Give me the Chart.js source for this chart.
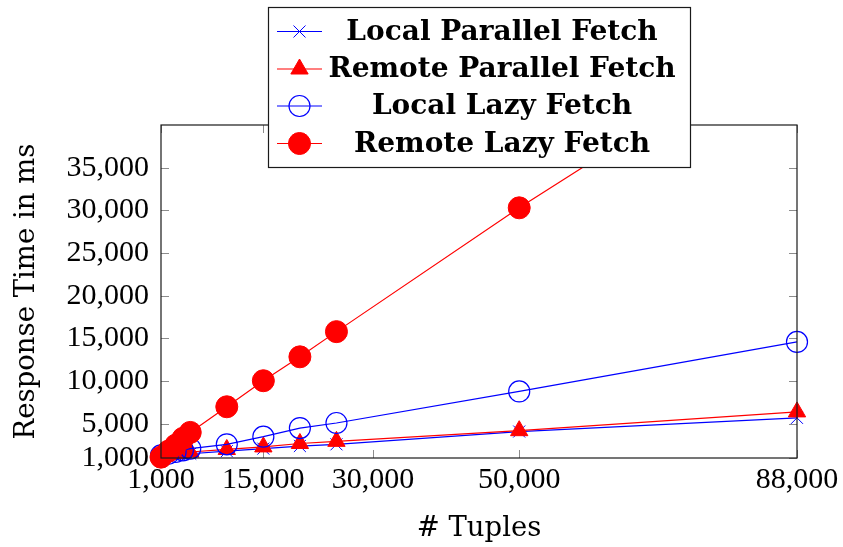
<!DOCTYPE html>
<html>
<head>
<meta charset="utf-8">
<script src="https://cdn.jsdelivr.net/npm/chart.js@4/dist/chart.umd.min.js"></script>
<style>
  html, body { margin: 0; padding: 0; background: #fff; }
  #wrap { width: 843px; height: 547px; position: relative; }
</style>
</head>
<body>
<div id="wrap"><canvas id="c" width="843" height="547"></canvas></div>
<script>
// Number of tuples fetched (x) and response times in ms (y)
const tuples = [1000, 2000, 3000, 4000, 5000, 10000, 15000, 20000, 25000, 50000, 88000];

const localParallel  = [1200, 1300, 1400, 1450, 1500, 1800, 2100, 2400, 2600, 4100, 5700];
const remoteParallel = [1300, 1400, 1500, 1600, 1700, 2000, 2300, 2700, 2950, 4200, 6400];
const localLazy      = [1300, 1500, 1700, 1900, 2100, 2600, 3500, 4500, 5100, 8800, 14600];
const remoteLazy     = [1100, 1800, 2500, 3300, 4000, 7000, 10050, 12850, 15800, 30300, 51000];

const seriesLabels = ['Local Parallel Fetch', 'Remote Parallel Fetch', 'Local Lazy Fetch', 'Remote Lazy Fetch'];

const xTicks = [1000, 15000, 30000, 50000, 88000];
const yTicks = [1000, 5000, 10000, 15000, 20000, 25000, 30000, 35000];

const xTitle = '# Tuples';
const yTitle = 'Response Time in ms';

const BLUE = '#0000ff';
const RED = '#ff0000';
const SERIF = "'Liberation Serif', 'DejaVu Serif', serif";
const TITLE_SERIF = "'DejaVu Serif', serif";

const pts = ys => tuples.map((x, i) => ({ x: x, y: ys[i] }));
const looseClip = { left: 30, right: 30, top: 30, bottom: 30 };

const datasets = [
  { label: seriesLabels[0], data: pts(localParallel), borderColor: BLUE, backgroundColor: BLUE,
    pointStyle: 'crossRot', pointRadius: 8.5, pointBorderWidth: 1, pointBorderColor: BLUE,
    borderWidth: 1.2, order: 4, clip: looseClip },
  { label: seriesLabels[1], data: pts(remoteParallel), borderColor: RED, backgroundColor: RED,
    pointStyle: 'triangle', pointRadius: 10, pointBorderWidth: 1, pointBorderColor: RED, pointBackgroundColor: RED,
    borderWidth: 1.2, order: 3, clip: looseClip },
  { label: seriesLabels[2], data: pts(localLazy), borderColor: BLUE, backgroundColor: 'rgba(0,0,0,0)',
    pointStyle: 'circle', pointRadius: 10.5, pointBorderWidth: 1.2, pointBorderColor: BLUE, pointBackgroundColor: 'rgba(0,0,0,0)',
    borderWidth: 1.2, order: 2, clip: looseClip },
  { label: seriesLabels[3], data: pts(remoteLazy), borderColor: RED, backgroundColor: RED,
    pointStyle: 'circle', pointRadius: 11, pointBorderWidth: 1, pointBorderColor: RED, pointBackgroundColor: RED,
    borderWidth: 1.2, order: 1, clip: { left: 30, right: 30, top: 0, bottom: 30 } }
];

const fmt = v => Number(v).toLocaleString('en-US');

// Small inward tick marks on all four sides of the plot frame
const frameTicks = {
  id: 'frameTicks',
  beforeDatasetsDraw(chart) {
    const { ctx, chartArea: a, scales } = chart;
    const len = 8;
    ctx.save();
    ctx.strokeStyle = '#8c8c8c';
    ctx.lineWidth = 1;
    ctx.beginPath();
    xTicks.forEach(v => {
      const px = Math.round(scales.x.getPixelForValue(v)) + 0.5;
      ctx.moveTo(px, a.bottom); ctx.lineTo(px, a.bottom - len);
      ctx.moveTo(px, a.top); ctx.lineTo(px, a.top + len);
    });
    yTicks.forEach(v => {
      const py = Math.round(scales.y.getPixelForValue(v)) + 0.5;
      ctx.moveTo(a.left, py); ctx.lineTo(a.left + len, py);
      ctx.moveTo(a.right, py); ctx.lineTo(a.right - len, py);
    });
    ctx.stroke();
    ctx.restore();
  },
  afterDatasetsDraw(chart) {
    const { ctx, chartArea: a } = chart;
    ctx.save();
    ctx.strokeStyle = '#1a1a1a';
    ctx.lineWidth = 1.2;
    ctx.strokeRect(a.left, a.top, a.right - a.left, a.bottom - a.top);
    ctx.restore();
  }
};

// Boxed legend: marker on a short line segment, label centred in the text column
const boxLegend = {
  id: 'boxLegend',
  afterDraw(chart) {
    const { ctx } = chart;
    const box = { x: 268.5, y: 7.5, w: 422, h: 160 };
    const rowY = [31.5, 69, 106, 143.5];
    const segL = 277, segR = 322, markX = 299.5, textX = 502;
    ctx.save();
    ctx.fillStyle = '#ffffff';
    ctx.fillRect(box.x, box.y, box.w, box.h);
    ctx.strokeStyle = '#1a1a1a';
    ctx.lineWidth = 1.2;
    ctx.strokeRect(box.x, box.y, box.w, box.h);
    chart.data.datasets.forEach((ds, i) => {
      const y = rowY[i];
      ctx.strokeStyle = ds.borderColor;
      ctx.lineWidth = ds.borderWidth;
      ctx.beginPath();
      ctx.moveTo(segL, y); ctx.lineTo(segR, y);
      ctx.stroke();
      ctx.fillStyle = ds.pointBackgroundColor || ds.backgroundColor;
      ctx.strokeStyle = ds.pointBorderColor;
      ctx.lineWidth = ds.pointBorderWidth;
      Chart.helpers.drawPoint(ctx, {
        pointStyle: ds.pointStyle, radius: ds.pointRadius, rotation: 0, borderWidth: ds.pointBorderWidth
      }, markX, y);
      ctx.fillStyle = '#000';
      ctx.font = "bold 28px 'DejaVu Serif', serif";
      ctx.textAlign = 'center';
      ctx.textBaseline = 'middle';
      ctx.fillText(ds.label, textX, y + 1);
    });
    ctx.restore();
  }
};

new Chart(document.getElementById('c'), {
  type: 'line',
  data: { datasets: datasets },
  plugins: [frameTicks, boxLegend],
  options: {
    responsive: false,
    animation: false,
    devicePixelRatio: 1,
    layout: { padding: { top: 125, right: 46, left: 0, bottom: 0 } },
    plugins: { legend: { display: false }, tooltip: { enabled: false } },
    elements: { line: { tension: 0 } },
    scales: {
      x: {
        type: 'linear', min: 1000, max: 88000,
        grid: { display: false, drawTicks: false }, border: { display: false },
        afterBuildTicks: s => { s.ticks = xTicks.map(v => ({ value: v })); },
        afterFit: s => { s.height = 89; },
        ticks: { autoSkip: false, maxRotation: 0, padding: 4, color: '#000',
                 font: { family: SERIF, size: 30 }, callback: v => fmt(v) },
        title: { display: true, text: xTitle, color: '#000', padding: { top: 0, bottom: 1.5 },
                 font: { family: TITLE_SERIF, size: 27.5 } }
      },
      y: {
        type: 'linear', min: 1000, max: 40000,
        grid: { display: false, drawTicks: false }, border: { display: false },
        afterBuildTicks: s => { s.ticks = yTicks.map(v => ({ value: v })); },
        afterFit: s => { s.width = 161; },
        ticks: { autoSkip: false, padding: 12, color: '#000',
                 font: { family: SERIF, size: 30 }, callback: v => fmt(v) },
        title: { display: true, text: yTitle, color: '#000', padding: { top: 10.5, bottom: 0 },
                 font: { family: TITLE_SERIF, size: 27.5 } }
      }
    }
  }
});
</script>
</body>
</html>
